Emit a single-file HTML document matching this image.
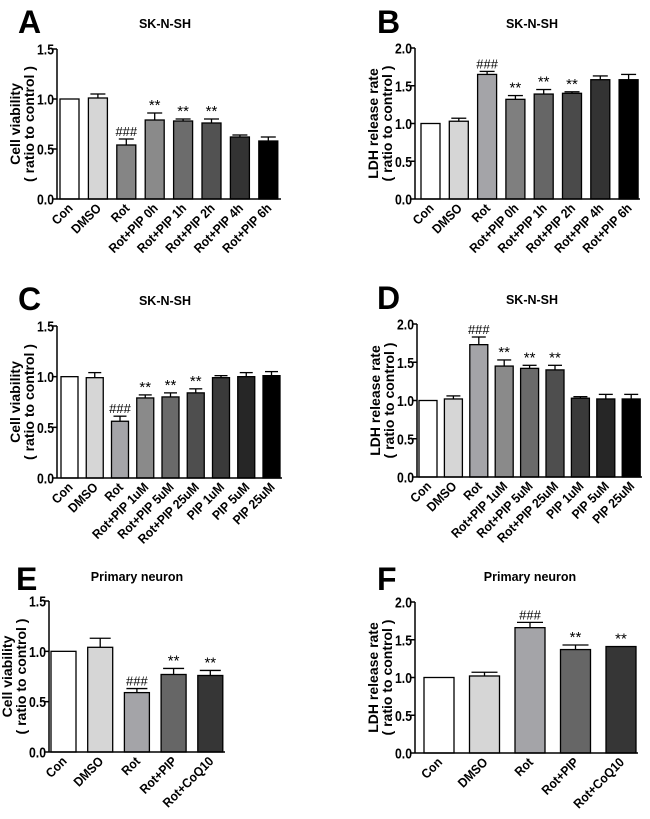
<!DOCTYPE html>
<html><head><meta charset="utf-8"><style>
html,body{margin:0;padding:0;background:#fff;}
svg{display:block;font-family:"Liberation Sans",Arial,sans-serif;font-weight:bold;}
</style></head><body>
<svg id="fig" width="650" height="819" viewBox="0 0 650 819" xmlns="http://www.w3.org/2000/svg"></svg>
<script>
const catsA=["Con","DMSO","Rot","Rot+PIP 0h","Rot+PIP 1h","Rot+PIP 2h","Rot+PIP 4h","Rot+PIP 6h"];
const valsA=[1.0,1.01,0.54,0.79,0.78,0.76,0.62,0.58];
const errA=[0,0.04,0.06,0.07,0.02,0.04,0.02,0.04];
const sigA=["","","###","**","**","**","",""];
const valsB=[1.0,1.03,1.65,1.32,1.39,1.40,1.58,1.58];
const errB=[0,0.04,0.04,0.05,0.06,0.02,0.05,0.07];
const sigB=["","","###","**","**","**","",""];
const catsC=["Con","DMSO","Rot","Rot+PIP 1uM","Rot+PIP 5uM","Rot+PIP 25uM","PIP 1uM","PIP 5uM","PIP 25uM"];
const valsC=[1.0,0.99,0.56,0.79,0.80,0.84,0.99,1.00,1.01];
const errC=[0,0.05,0.05,0.03,0.04,0.04,0.02,0.04,0.04];
const sigC=["","","###","**","**","**","","",""];
const valsD=[1.0,1.02,1.73,1.45,1.42,1.40,1.03,1.02,1.02];
const errD=[0,0.04,0.10,0.08,0.04,0.06,0.02,0.06,0.06];
const sigD=["","","###","**","**","**","","",""];
const catsE=["Con","DMSO","Rot","Rot+PIP","Rot+CoQ10"];
const valsE=[1.0,1.04,0.59,0.77,0.76];
const errE=[0,0.09,0.04,0.06,0.05];
const sigE=["","","###","**","**"];
const valsF=[1.0,1.02,1.66,1.37,1.41];
const errF=[0,0.05,0.07,0.06,0];
const sigF=["","","###","**","**"];
const ticks15=["0.0","0.5","1.0","1.5"];
const ticks20=["0.0","0.5","1.0","1.5","2.0"];

const colors8=["#ffffff","#d6d6d6","#858585","#8a8a8a","#6c6c6c","#525252","#333333","#000000"];
const colors8B=["#ffffff","#d6d6d6","#a4a4a8","#7f7f7f","#666666","#4a4a4a","#333333","#000000"];
const colors9=["#ffffff","#d6d6d6","#a4a4a8","#8a8a8a","#6a6a6a","#4e4e4e","#3a3a3a","#262626","#000000"];
const colors5=["#ffffff","#d6d6d6","#a4a4a8","#666666","#363636"];

const NS="http://www.w3.org/2000/svg";
const svg=document.getElementById('fig');
function mk(tag,attrs,parent){const e=document.createElementNS(NS,tag);for(const k in attrs)e.setAttribute(k,attrs[k]);(parent||svg).appendChild(e);return e;}

function panel(p){
  const g=mk('g',{});
  
  
  const yScale=v=>p.y0-(v/p.ymax)*(p.y0-p.ytop);
  const xc=i=>p.x1+i*p.step+p.bw/2;
  const L=mk('text',{x:p.lx,y:p.ly,'font-size':32,'font-weight':'bold'},g);L.textContent=p.letter;
  
  
  const T=mk('text',{x:p.tx,y:p.ty,'font-size':12.5,'text-anchor':'middle'},g);T.textContent=p.title;
  
  
  const yt=mk('text',{transform:`translate(${p.ax-37},${(p.y0+p.ytop)/2}) rotate(-90)`,'font-size':14,'text-anchor':'middle'},g);
  
  
  const t1=mk('tspan',{x:0,dy:0},yt);t1.textContent=p.ytitle;
  const t2=mk('tspan',{x:0,dy:14},yt);t2.textContent="( ratio to control )";
  p.vals.forEach((v,i)=>{
    const x=p.x1+i*p.step, y=yScale(v);
    const r=mk('rect',{x:x,y:y,width:p.bw,height:p.y0-y,fill:p.colors[i],stroke:'#000','stroke-width':1.3},g);
    
    
    if(p.err[i]>0){
      const ye=yScale(v+p.err[i]);
      mk('line',{x1:xc(i),x2:xc(i),y1:y,y2:ye,stroke:'#000','stroke-width':1.3},g);
      const cap=mk('line',{x1:xc(i)-p.bw/2+2,x2:xc(i)+p.bw/2-2,y1:ye,y2:ye,stroke:'#000','stroke-width':1.3},g);
      
      
    }
    if(p.sig[i]){
      const s=mk('text',{x:xc(i),y:yScale(v+p.err[i])-3,'font-size':p.sig[i]=='###'?13:15,'font-weight':'normal','text-anchor':'middle'},g);
      s.textContent=p.sig[i];
      
      
    }
    const lab=mk('text',{transform:`translate(${xc(i)+4},${p.y0+10}) rotate(-45) scale(0.92,1)`,'font-size':13,'text-anchor':'end'},g);
    lab.textContent=p.cats[i];
    
    
  });
  const ya=mk('line',{x1:p.ax,x2:p.ax,y1:p.ytop,y2:p.y0,stroke:'#000','stroke-width':1.5},g);
  
  
  const xa=mk('line',{x1:p.ax,x2:p.xr,y1:p.y0,y2:p.y0,stroke:'#000','stroke-width':1.5},g);
  
  
  p.ticks.forEach(t=>{
    const y=yScale(parseFloat(t));
    mk('line',{x1:p.ax-4,x2:p.ax,y1:y,y2:y,stroke:'#000','stroke-width':1.5},g);
    const tl=mk('text',{x:p.ax-20,y:y+5.5,'font-size':15,textLength:17,lengthAdjust:'spacingAndGlyphs'},g);tl.textContent=t;
    
    
  });
}

panel({letter:"A",lx:18,ly:33,title:"SK-N-SH",tx:165,ty:28,ytitle:"Cell viability",ax:57,ytop:49,y0:199,ymax:1.5,xr:281,x1:60,step:28.4,bw:19,cats:catsA,vals:valsA,err:errA,sig:sigA,colors:colors8,ticks:ticks15});
panel({letter:"B",lx:377,ly:33,title:"SK-N-SH",tx:532,ty:28,ytitle:"LDH release rate",ax:415,ytop:48,y0:199,ymax:2.0,xr:640,x1:421,step:28.3,bw:19,cats:catsA,vals:valsB,err:errB,sig:sigB,colors:colors8B,ticks:ticks20});
panel({letter:"C",lx:18,ly:310,title:"SK-N-SH",tx:165,ty:305,ytitle:"Cell viability",ax:57,ytop:326,y0:478,ymax:1.5,xr:282,x1:61,step:25.25,bw:17,cats:catsC,vals:valsC,err:errC,sig:sigC,colors:colors9,ticks:ticks15});
panel({letter:"D",lx:377,ly:309,title:"SK-N-SH",tx:532,ty:304,ytitle:"LDH release rate",ax:417,ytop:324,y0:477,ymax:2.0,xr:642,x1:419,step:25.4,bw:18,cats:catsC,vals:valsD,err:errD,sig:sigD,colors:colors9,ticks:ticks20});
panel({letter:"E",lx:16,ly:590,title:"Primary neuron",tx:137,ty:581,ytitle:"Cell viability",ax:49,ytop:601,y0:752,ymax:1.5,xr:225,x1:51,step:36.7,bw:25,cats:catsE,vals:valsE,err:errE,sig:sigE,colors:colors5,ticks:ticks15});
panel({letter:"F",lx:377,ly:590,title:"Primary neuron",tx:530,ty:581,ytitle:"LDH release rate",ax:415,ytop:602,y0:753,ymax:2.0,xr:638,x1:424,step:45.5,bw:30,cats:catsE,vals:valsF,err:errF,sig:sigF,colors:colors5,ticks:ticks20});
</script>
</body></html>
